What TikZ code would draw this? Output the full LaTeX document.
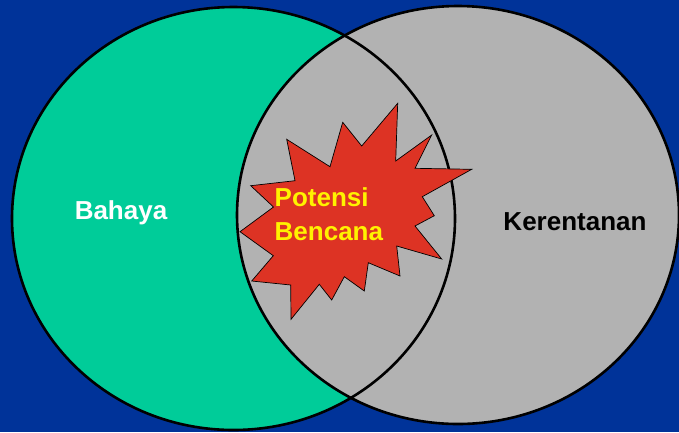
\documentclass[tikz,border=0pt]{standalone}
\usepackage{fontspec}
\setmainfont{Liberation Sans}
\definecolor{bgblue}{RGB}{0,51,153}
\definecolor{hazgreen}{RGB}{0,204,153}
\definecolor{vulgray}{RGB}{178,178,178}
\definecolor{burstred}{RGB}{221,51,36}
\begin{document}
\begin{tikzpicture}[
    x=1pt, y=-1pt,
    label/.style={font=\fontsize{26}{34}\selectfont\bfseries, inner sep=0pt}
  ]
  \useasboundingbox (0,0) rectangle (679,432);
  \fill[bgblue] (0,0) rectangle (679,432);
  % the two sets
  \fill[hazgreen] (233.5,218.5) ellipse [x radius=221.5, y radius=211.5];
  \fill[vulgray] (458,215) ellipse [x radius=221, y radius=209];
  \draw[line width=2.6pt] (233.5,218.5) ellipse [x radius=221.5, y radius=211.5];
  \draw[line width=2.6pt] (458,215) ellipse [x radius=221, y radius=209];
  % burst in the overlap
  \draw[fill=burstred, line width=0.7pt] (397.7,103.3) -- (361.7,146) -- (342.7,122.3)
    -- (330,166.7) -- (286.7,139.3) -- (295,180.7) -- (250.7,185.7)
    -- (273.5,207) -- (240,231.7) -- (273.3,255.7) -- (251.7,281)
    -- (290.7,285) -- (291,319.3) -- (319.3,284.3) -- (331.7,300)
    -- (344.3,276.7) -- (364.3,291) -- (368.3,262.7) -- (400,276)
    -- (396.7,246) -- (441.7,259) -- (415,226) -- (434.3,215.7)
    -- (422.3,196.7) -- (471.7,169.3) -- (415,168.3) -- (431.7,135)
    -- (395.7,161) -- cycle;

  \node[label, text=white] (bahaya) at (121,213) {Bahaya};
  \node[label, text=yellow, align=left, anchor=west] (potensi) at (274.5,214)
    {Potensi\\Bencana};
  \node[label, text=black] (kerentanan) at (575,222) {Kerentanan};
\end{tikzpicture}
\end{document}
